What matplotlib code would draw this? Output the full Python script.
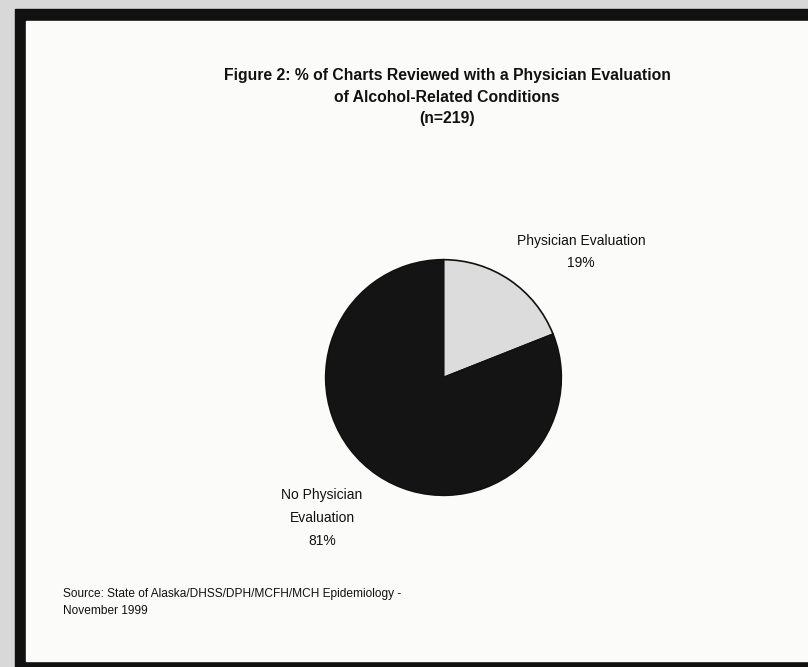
import matplotlib.pyplot as plt
from matplotlib.patches import Rectangle

# DATA
labels = ["Physician Evaluation", "No Physician\nEvaluation"]
shares = [19, 81]
slice_colors = ["#dcdcdc", "#141414"]

TITLE = ("Figure 2: % of Charts Reviewed with a Physician Evaluation\n"
         "of Alcohol-Related Conditions\n(n=219)")
SOURCE = "Source: State of Alaska/DHSS/DPH/MCFH/MCH Epidemiology -\nNovember 1999"

W, H = 808, 667
plt.rcParams["font.family"] = ["Liberation Sans", "DejaVu Sans"]

fig = plt.figure(figsize=(W / 100, H / 100), dpi=100, facecolor="#d8d8d8")

# page / frame, drawn in pixel units
bg = fig.add_axes([0, 0, 1, 1])
bg.set_xlim(0, W)
bg.set_ylim(H, 0)
bg.axis("off")
bg.add_patch(Rectangle((15, 9), W - 15, H - 9, color="#111111"))
bg.add_patch(Rectangle((26, 21), W - 26, 640, color="#fbfbfa"))

# title
bg.text(447, 97, TITLE, ha="center", va="center", fontsize=11.3,
        fontweight="bold", linespacing=1.56, color="#111111")

# pie
cx, cy, r = 443.5, 377.5, 119
pie_ax = fig.add_axes([(cx - r) / W, (H - cy - r) / H, 2 * r / W, 2 * r / H])
pie_ax.pie(shares, colors=slice_colors, startangle=90, counterclock=False,
           wedgeprops=dict(edgecolor="#111111", linewidth=1.2))
pie_ax.set_xlim(-1.01, 1.01)
pie_ax.set_ylim(-1.01, 1.01)
pie_ax.set_aspect("equal")

# slice labels
bg.text(581, 252, f"{labels[0]}\n{shares[0]}%", ha="center", va="center",
        fontsize=10, linespacing=1.74, color="#111111")
bg.text(322, 518, f"{labels[1]}\n{shares[1]}%", ha="center", va="center",
        fontsize=10, linespacing=1.8, color="#111111")

# source
bg.text(63, 602.5, SOURCE, ha="left", va="center", fontsize=8.6,
        linespacing=1.56, color="#111111")

fig.savefig("out.png", dpi=100, facecolor=fig.get_facecolor())
